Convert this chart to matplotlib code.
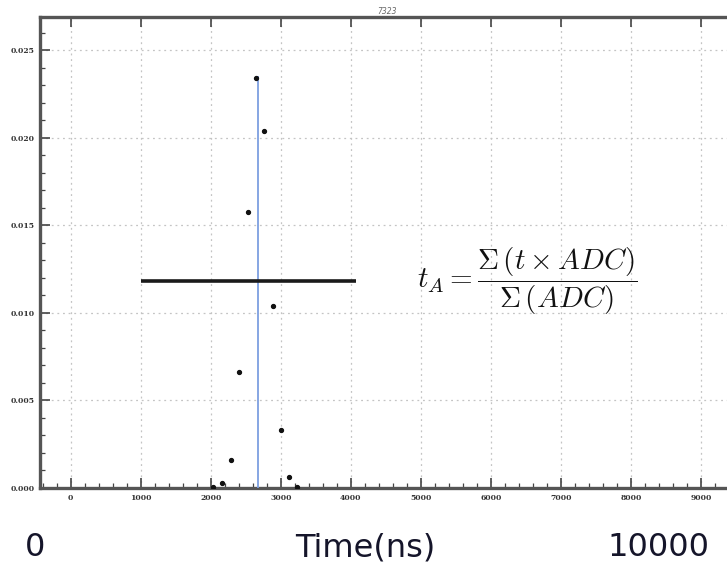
import matplotlib
matplotlib.use("Agg")
import matplotlib.pyplot as plt
from matplotlib.ticker import MultipleLocator

plt.rcParams["mathtext.fontset"] = "cm"

# ── Data ──────────────────────────────────────────────────────────────────────
time_ns = [2037, 2157, 2286, 2400, 2528, 2647, 2766, 2886, 3004, 3119, 3237]
adc_frac = [0.00007, 0.00027, 0.0016, 0.00663, 0.01575, 0.02341,
            0.0204, 0.01042, 0.00331, 0.00063, 0.00007]
t_A = 2676            # weighted mean time (blue line)
t_A_height = 0.02354
bar_start, bar_end = 1000, 4076   # black horizontal bar
bar_level = 0.01185
title = "7323"
xticks = list(range(0, 10000, 1000))
yticks = [0.000, 0.005, 0.010, 0.015, 0.020, 0.025]

# ── Figure ────────────────────────────────────────────────────────────────────
fig = plt.figure(figsize=(7.27, 5.67), dpi=100)
ax = fig.add_axes([40/727, 79/567, 731/727, 471/567])

ax.set_xlim(-440, 10000)
ax.set_ylim(0, 0.0269)

ax.grid(True, which="major", color="#c4c4c4", linestyle=(0, (1.5, 3)), linewidth=0.9)
ax.set_axisbelow(True)

ax.vlines(t_A, 0, t_A_height, color="#7d9fe0", linewidth=1.3, zorder=3)
ax.hlines(bar_level, bar_start, bar_end, color="#1a1a1a", linewidth=2.6, zorder=3)
ax.plot(time_ns, adc_frac, linestyle="none", marker="o", markersize=2.8,
        color="#111111", zorder=4)

ax.set_xticks(xticks)
ax.set_yticks(yticks)
ax.xaxis.set_minor_locator(MultipleLocator(200))
ax.yaxis.set_minor_locator(MultipleLocator(0.001))
ax.set_yticklabels([f"{v:.3f}" for v in yticks])
ax.tick_params(which="major", direction="in", length=7, width=1.2, color="#444444",
               top=True, labelsize=5.5, pad=4)
ax.tick_params(which="minor", direction="in", length=3.5, width=0.9, color="#444444",
               top=False)
for lab in ax.get_xticklabels() + ax.get_yticklabels():
    lab.set_family("DejaVu Serif")
    lab.set_fontweight("bold")
    lab.set_color("#333333")

for side in ["left", "bottom", "top", "right"]:
    ax.spines[side].set_linewidth(2.4)
    ax.spines[side].set_color("#555555")

ax.set_title(title, fontsize=5.5, style="italic", color="#666666", pad=2,
             x=(387 - 40) / 731)

fig.text(527/727, 1 - 281/567, r"$t_A = \dfrac{\Sigma\,(t \times ADC)}{\Sigma\,(ADC)}$",
         fontsize=21, ha="center", va="center", color="#111111")

bottom_y = 1 - 548/567
fig.text(35/727, bottom_y, "0", fontsize=23, ha="center", va="center", color="#15152a")
fig.text(365/727, bottom_y, "Time(ns)", fontsize=23, ha="center", va="center", color="#15152a")
fig.text(658/727, bottom_y, "10000", fontsize=23, ha="center", va="center", color="#15152a")

fig.savefig("out.png", dpi=100)
